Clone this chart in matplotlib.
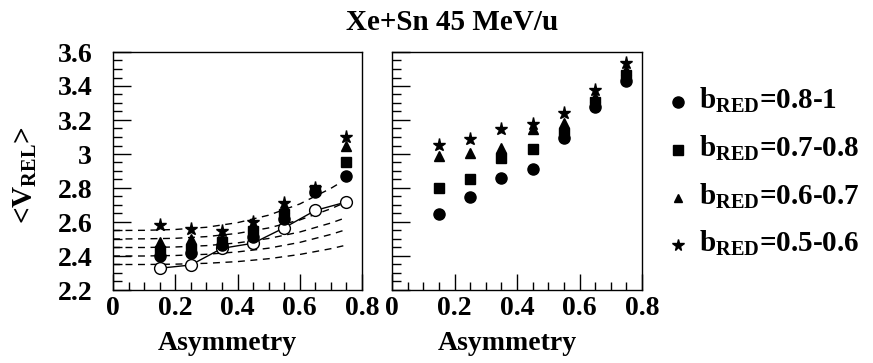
import matplotlib
matplotlib.use('Agg')
import matplotlib.pyplot as plt
from matplotlib.lines import Line2D
from matplotlib.ticker import MultipleLocator, FormatStrFormatter

# ---------------- data ----------------
asym = [0.15, 0.25, 0.35, 0.45, 0.55, 0.65, 0.75]

# left panel (filled symbols)
left_b08_1 = [2.40, 2.415, 2.465, 2.51, 2.62, 2.775, 2.87]
left_b07_08 = [2.43, 2.44, 2.485, 2.55, 2.65, 2.79, 2.95]
left_b06_07 = [2.48, 2.50, 2.505, 2.58, 2.68, 2.795, 3.05]
left_b05_06 = [2.585, 2.56, 2.545, 2.60, 2.71, 2.80, 3.10]

# left panel open circles with solid line
left_open = [2.328, 2.347, 2.445, 2.475, 2.566, 2.668, 2.718]

# dashed curves
dash_x1 = [0.0, 0.1, 0.2, 0.3, 0.4, 0.5, 0.6, 0.7, 0.72]
dash_y1 = [2.550, 2.551, 2.556, 2.569, 2.596, 2.640, 2.706, 2.798, 2.82]
dash_x = [0.0, 0.1, 0.2, 0.3, 0.4, 0.5, 0.6, 0.7, 0.74]
dash_y2 = [2.500, 2.501, 2.504, 2.514, 2.533, 2.565, 2.612, 2.678, 2.71]
dash_y3 = [2.450, 2.450, 2.453, 2.461, 2.477, 2.503, 2.541, 2.594, 2.62]
dash_y4 = [2.400, 2.400, 2.403, 2.410, 2.424, 2.446, 2.480, 2.527, 2.55]
dash_y5 = [2.350, 2.350, 2.352, 2.357, 2.367, 2.384, 2.409, 2.443, 2.46]

# right panel
right_b08_1 = [2.647, 2.749, 2.857, 2.910, 3.092, 3.275, 3.431]
right_b07_08 = [2.798, 2.851, 2.974, 3.027, 3.122, 3.308, 3.465]
right_b06_07 = [2.988, 3.004, 3.033, 3.150, 3.180, 3.337, 3.494]
right_b05_06 = [3.053, 3.086, 3.145, 3.175, 3.239, 3.376, 3.533]

legend_labels = [r'$\mathbf{b_{RED}}$=0.8-1', r'$\mathbf{b_{RED}}$=0.7-0.8',
                 r'$\mathbf{b_{RED}}$=0.6-0.7', r'$\mathbf{b_{RED}}$=0.5-0.6']
legend_markers = ['o', 's', '^', '*']
title = 'Xe+Sn 45 MeV/u'
xlabel = 'Asymmetry'
ylabel = r'<V$_{\mathbf{REL}}$>'

# ---------------- style ----------------
plt.rcParams['font.family'] = ['Liberation Serif', 'DejaVu Serif']
plt.rcParams['font.weight'] = 'bold'
plt.rcParams['mathtext.fontset'] = 'custom'
plt.rcParams['mathtext.rm'] = 'Liberation Serif:bold'
plt.rcParams['mathtext.bf'] = 'Liberation Serif:bold'
plt.rcParams['mathtext.it'] = 'Liberation Serif:bold'

W, H = 873, 363
fig = plt.figure(figsize=(W / 100, H / 100), dpi=100)

ax_bottom = 1 - 290 / H
ax_h = (290 - 52) / H
axL = fig.add_axes([113 / W, ax_bottom, 249 / W, ax_h])
axR = fig.add_axes([392 / W, ax_bottom, 250 / W, ax_h])

styles = [dict(marker='o', ms=8.0), dict(marker='s', ms=7.0),
          dict(marker='^', ms=7.0), dict(marker='*', ms=9.5)]

TICK_FS = 20
for ax in (axL, axR):
    ax.set_xlim(0, 0.8)
    ax.set_ylim(2.2, 3.6)
    ax.xaxis.set_major_locator(MultipleLocator(0.2))
    ax.xaxis.set_minor_locator(MultipleLocator(0.05))
    ax.yaxis.set_major_locator(MultipleLocator(0.2))
    ax.yaxis.set_minor_locator(MultipleLocator(0.05))
    ax.xaxis.set_major_formatter(FormatStrFormatter('%g'))
    ax.yaxis.set_major_formatter(FormatStrFormatter('%g'))
    ax.tick_params(axis='x', which='major', direction='in', length=11.5, width=1,
                   top=False, labelsize=TICK_FS, pad=4)
    ax.tick_params(axis='x', which='minor', direction='in', length=5.5, width=1, top=False)
    ax.tick_params(axis='y', which='major', direction='in', length=13, width=1,
                   right=False, labelsize=TICK_FS, pad=15)
    ax.tick_params(axis='y', which='minor', direction='in', length=6.5, width=1, right=False)
    for s in ax.spines.values():
        s.set_linewidth(1.0)
    ax.set_xlabel(xlabel, fontsize=20, fontweight='bold')
    ax.xaxis.set_label_coords(0.46, (290 - 343) / 238)
    ax.xaxis.label.set_va('center')

axR.tick_params(axis='y', which='both', labelleft=False)

# left panel
for xs, ys in [(dash_x1, dash_y1), (dash_x, dash_y2), (dash_x, dash_y3),
               (dash_x, dash_y4), (dash_x, dash_y5)]:
    axL.plot(xs, ys, color='black', lw=1.0, ls=(0, (5, 4)))
axL.plot(asym, left_open, color='black', lw=1.0, marker='o', ms=8.5,
         mfc='white', mec='black', mew=1.0, zorder=3)
for ys, st in zip([left_b08_1, left_b07_08, left_b06_07, left_b05_06], styles):
    axL.plot(asym, ys, ls='none', color='black', zorder=4, **st)

# right panel
for ys, st in zip([right_b08_1, right_b07_08, right_b06_07, right_b05_06], styles):
    axR.plot(asym, ys, ls='none', color='black', zorder=4, **st)

axL.set_ylabel(ylabel, fontsize=21, fontweight='bold')
axL.yaxis.set_label_coords((25 - 113) / 249, (290 - 175) / 238)
axL.yaxis.label.set_va('center')

fig.text(452 / W, 1 - 22 / H, title, ha='center', va='center', fontsize=21, fontweight='bold')

# legend (manual placement)
row_y = [102, 150, 198, 245]
leg_ms = [8, 7, 6, 8.5]
for yy, lab, mk, ms in zip(row_y, legend_labels, legend_markers, leg_ms):
    fig.add_artist(Line2D([678 / W], [1 - yy / H], transform=fig.transFigure,
                          ls='none', marker=mk, ms=ms, color='black'))
    fig.text(699 / W, 1 - (yy + 7) / H, lab, ha='left', va='baseline',
             fontsize=21, fontweight='bold')

fig.savefig('out.png', dpi=100)
